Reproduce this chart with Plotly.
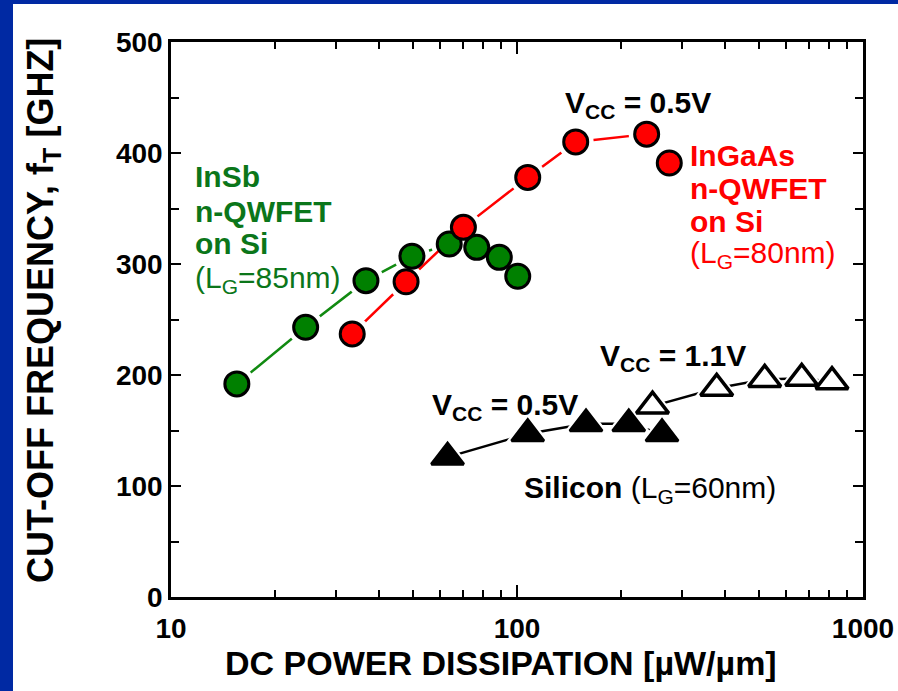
import plotly.graph_objects as go

# ---- data: DC power dissipation [uW/um] vs cut-off frequency fT [GHz] ----
insb_power = [15.5, 24.5, 36.6, 49.7, 63.7, 76.5, 88.9, 100.5]
insb_ft = [192, 243, 285, 307, 318, 315, 306, 289]

ingaas_power = [33.4, 47.8, 70.0, 107.4, 147.8, 237.0, 275.5]
ingaas_ft = [237, 284, 333, 378, 410, 417, 391]

si_low_power = [63.0, 107.4, 158.3, 210.4, 262.5]      # Vcc = 0.5V (filled)
si_low_ft = [126, 147, 156, 156, 147]
si_high_power = [246.4, 377.7, 519.9, 665.0, 813.6]    # Vcc = 1.1V (open)
si_high_ft = [172, 188, 196, 197, 194]

x_ticks = [10, 100, 1000]
x_minor = [20, 30, 40, 50, 60, 70, 80, 90, 200, 300, 400, 500, 600, 700, 800, 900]

# ---- layout geometry (pixels) ----
W, H = 898, 691
ML, MR, MT, MB = 171, 35, 42, 94
PW, PH = W - ML - MR, H - MT - MB

GREEN = "#008000"
GREEN_TXT = "#0b761a"
GREEN_LINE = "#118a11"
RED = "#ff0000"
BLUE = "#0029a3"
FONT = "Liberation Sans"


def px(x):
    return (x - ML) / PW


def py(y):
    return (H - MB - y) / PH


fig = go.Figure()

CIRC = 24
HALO = 36
TRI = 28
TRI_HALO = 40

# connecting lines, with white halos that open small gaps around the markers
fig.add_trace(go.Scatter(x=insb_power, y=insb_ft, mode="lines",
                         line=dict(color=GREEN_LINE, width=2.5), hoverinfo="skip"))
fig.add_trace(go.Scatter(x=insb_power, y=insb_ft, mode="markers",
                         marker=dict(size=HALO, color="white"), hoverinfo="skip"))
fig.add_trace(go.Scatter(x=ingaas_power[:6], y=ingaas_ft[:6], mode="lines",
                         line=dict(color=RED, width=2.5), hoverinfo="skip"))
fig.add_trace(go.Scatter(x=ingaas_power, y=ingaas_ft, mode="markers",
                         marker=dict(size=HALO, color="white"), hoverinfo="skip"))
fig.add_trace(go.Scatter(x=si_low_power, y=si_low_ft, mode="lines",
                         line=dict(color="black", width=2.5), hoverinfo="skip"))
fig.add_trace(go.Scatter(x=si_high_power, y=si_high_ft, mode="lines",
                         line=dict(color="black", width=2.5), hoverinfo="skip"))
fig.add_trace(go.Scatter(x=si_low_power + si_high_power, y=si_low_ft + si_high_ft,
                         mode="markers",
                         marker=dict(size=TRI_HALO, symbol="triangle-up", color="white"),
                         hoverinfo="skip"))

# markers
fig.add_trace(go.Scatter(x=insb_power, y=insb_ft, mode="markers", name="InSb",
                         marker=dict(size=CIRC, color=GREEN,
                                     line=dict(color="black", width=3))))
fig.add_trace(go.Scatter(x=ingaas_power, y=ingaas_ft, mode="markers", name="InGaAs",
                         marker=dict(size=CIRC, color=RED,
                                     line=dict(color="black", width=3))))
fig.add_trace(go.Scatter(x=si_low_power, y=si_low_ft, mode="markers", name="Si 0.5V",
                         marker=dict(size=TRI, symbol="triangle-up", color="black",
                                     line=dict(color="black", width=3))))
fig.add_trace(go.Scatter(x=si_high_power, y=si_high_ft, mode="markers", name="Si 1.1V",
                         marker=dict(size=TRI, symbol="triangle-up", color="white",
                                     line=dict(color="black", width=3.5))))


def note(text, x, y, color="black", size=30, weight="bold", xanchor="left"):
    fig.add_annotation(text=text, x=px(x), y=py(y), xref="paper", yref="paper",
                       xanchor=xanchor, yanchor="middle", showarrow=False,
                       font=dict(family=FONT, size=size, color=color, weight=weight))


note("InSb", 193, 177, GREEN_TXT)
note("n-QWFET", 193, 211, GREEN_TXT)
note("on Si", 193, 244, GREEN_TXT)
note("(L<sub>G</sub>=85nm)", 193, 279, GREEN_TXT, weight="normal")

note("InGaAs", 688, 155, RED)
note("n-QWFET", 688, 188, RED)
note("on Si", 688, 221, RED)
note("(L<sub>G</sub>=80nm)", 688, 255, RED, weight="normal")

note("V<sub>CC</sub> = 0.5V", 563, 105)
note("V<sub>CC</sub> = 1.1V", 598, 357)
note("V<sub>CC</sub> = 0.5V", 430, 406)
note("<b>Silicon</b> (L<sub>G</sub>=60nm)", 522, 489, weight="normal")

# axis titles
fig.add_annotation(text="DC POWER DISSIPATION [\u00b5W/\u00b5m]", x=px(501), y=py(663),
                   xref="paper", yref="paper", xanchor="center", yanchor="middle",
                   showarrow=False,
                   font=dict(family=FONT, size=34, color="black", weight="bold"))
fig.add_annotation(text="CUT-OFF FREQUENCY, f<sub>T</sub> [GHZ]", x=px(43), y=py(311),
                   xref="paper", yref="paper", xanchor="center", yanchor="middle",
                   textangle=-90, showarrow=False,
                   font=dict(family=FONT, size=36, color="black", weight="bold"))

# blue frame strips
fig.add_shape(type="rect", xref="paper", yref="paper",
              x0=px(0), x1=px(13), y0=py(H), y1=py(0),
              fillcolor=BLUE, line=dict(width=0), layer="below")
fig.add_shape(type="rect", xref="paper", yref="paper",
              x0=px(0), x1=px(W), y0=py(4), y1=py(0),
              fillcolor=BLUE, line=dict(width=0), layer="below")

fig.update_xaxes(type="log", range=[1, 3], tickvals=x_ticks,
                 ticktext=[str(v) for v in x_ticks], automargin=False,
                 ticks="inside", ticklen=12, tickwidth=2, tickcolor="black",
                 minor=dict(tickvals=x_minor, ticks="inside", ticklen=7,
                            tickwidth=2, tickcolor="black", showgrid=False),
                 showline=True, linecolor="black", linewidth=2.5, mirror="ticks",
                 showgrid=False, zeroline=False, ticklabelstandoff=5,
                 tickfont=dict(family=FONT, size=28, color="black", weight="bold"))
fig.update_yaxes(range=[0, 500], dtick=100, tick0=0, automargin=False,
                 ticks="inside", ticklen=10, tickwidth=2, tickcolor="black",
                 minor=dict(dtick=50, ticks="inside", ticklen=8, tickwidth=2,
                            tickcolor="black", showgrid=False),
                 showline=True, linecolor="black", linewidth=2.5, mirror="ticks",
                 showgrid=False, zeroline=False, ticklabelstandoff=0,
                 tickfont=dict(family=FONT, size=28, color="black", weight="bold"))

fig.update_layout(width=W, height=H, margin=dict(l=ML, r=MR, t=MT, b=MB),
                  paper_bgcolor="white", plot_bgcolor="white", showlegend=False)

fig.write_html("out.html")
